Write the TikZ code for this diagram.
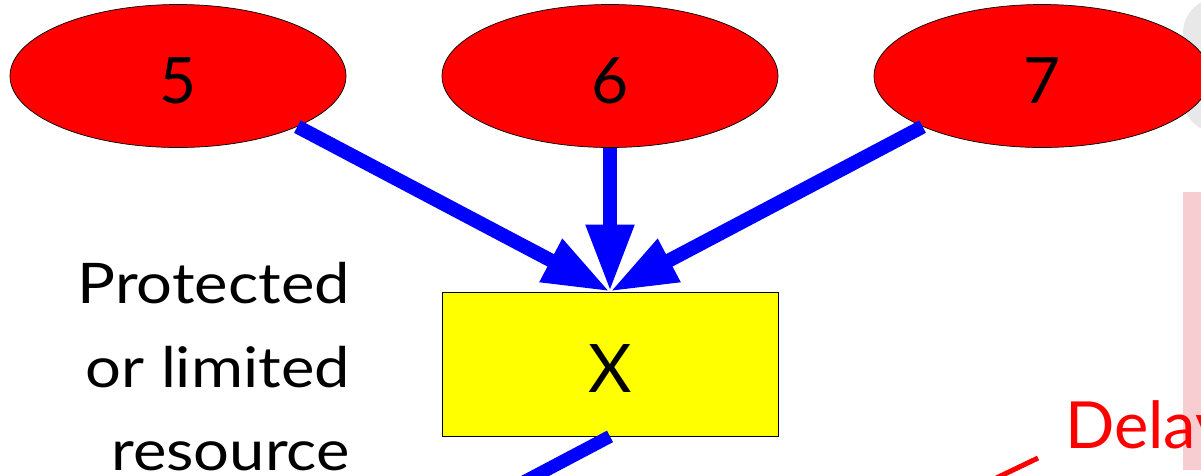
\documentclass[tikz,border=0pt]{standalone}
\usepackage{fontspec}
\setmainfont{Lato}
\newfontfamily\widesans[FakeStretch=1.13]{Lato}
\usetikzlibrary{arrows.meta,shapes.geometric}

\definecolor{nodered}{HTML}{FF0000}
\definecolor{flowblue}{HTML}{0000FF}
\definecolor{boxyellow}{HTML}{FFFF00}
\definecolor{panelgray}{HTML}{E8E8E8}
\definecolor{panelpink}{HTML}{F7CDD2}

\tikzset{
  task/.style={ellipse, draw=black, line width=0.7pt, fill=nodered,
    minimum width=336pt, minimum height=143pt, inner sep=0pt,
    font=\fontsize{64}{64}\selectfont, text height=54pt, text depth=0pt},
  resource/.style={rectangle, draw=black, line width=0.8pt, fill=boxyellow,
    minimum width=336pt, minimum height=144pt, inner sep=0pt,
    font=\fontsize{67}{67}\selectfont, text height=56pt, text depth=0pt},
  flow/.style={draw=flowblue, line width=14pt,
    -{Triangle[length=67pt,width=45pt]}},
  plainflow/.style={draw=flowblue, line width=13pt},
  caption/.style={inner sep=0pt, font=\widesans\fontsize{56}{56}\selectfont},
  delaytext/.style={inner sep=0pt, text=nodered, font=\fontsize{65}{65}\selectfont},
  delayline/.style={draw=nodered, line width=5pt}
}

\begin{document}
\begin{tikzpicture}[x=1pt, y=-1pt]
  \useasboundingbox (0,0) rectangle (1201,475);
  \clip (0,0) rectangle (1201,475);

  % side panels partly in view on the right
  \fill[panelgray, rounded corners=35pt] (1183,-2) rectangle (1260,133);
  \fill[panelpink] (1183,192) rectangle (1260,470);

  % tasks competing for the resource
  \node[task] (e5) at (178,76) {5};
  \node[task] (e6) at (610,76) {6};
  \node[task] (e7) at (1042,76) {7};

  % the shared resource
  \node[resource] (x) at (610,364) {X};

  % requests
  \draw[flow] (e5.-23.4) -- (x.north);
  \draw[flow] (e6.south) -- (x.north);
  \draw[flow] (e7.203.9) -- (x.north);

  % outgoing edge
  \coordinate (out) at (516,486);
  \draw[plainflow] (x.south) -- (out);

  % caption
  \node[caption, anchor=base east] (t1) at (350,303) {Protected};
  \node[caption, anchor=base east] (t2) at (350,387) {or limited};
  \node[caption, anchor=base east] (t3) at (350,470) {resource};

  % delay annotation
  \node[delaytext, anchor=base west] (delay) at (1065,448) {Delay};
  \coordinate (d1) at (1038,458);
  \coordinate (d2) at (988,482);
  \draw[delayline] (d1) -- (d2);
\end{tikzpicture}
\end{document}
